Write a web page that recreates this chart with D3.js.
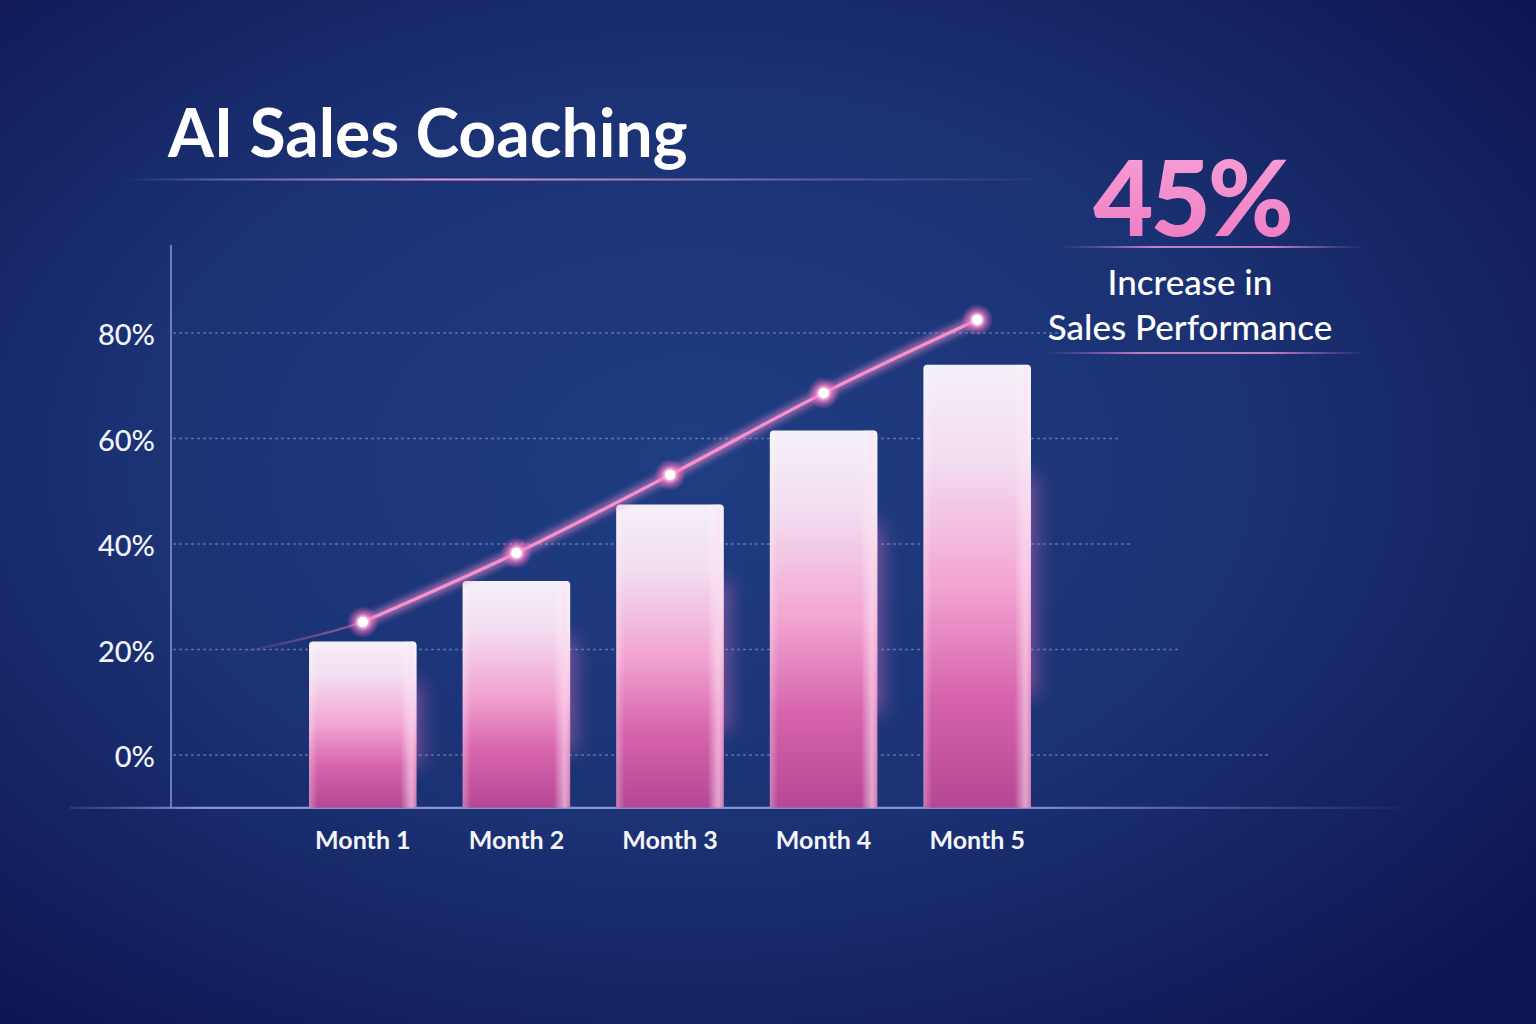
<!DOCTYPE html>
<html><head><meta charset="utf-8">
<script src="https://cdn.jsdelivr.net/npm/d3@7/dist/d3.min.js"></script>
<style>html,body{margin:0;padding:0;background:#13205a;}svg{display:block;}</style>
</head><body>
<script>
const months = ["Month 1","Month 2","Month 3","Month 4","Month 5"];
const barValues = [21.5, 33, 47.5, 61.5, 74];
const lineValues = [25.2, 38.3, 53.1, 68.6, 82.5];
const leadValue = 19;
const yTicks = [0, 20, 40, 60, 80];
const titleText = "AI Sales Coaching";
const kpiValue = "45%";
const kpiLines = ["Increase in", "Sales Performance"];

const W = 1536, H = 1024;
const svg = d3.select("body").append("svg").attr("width", W).attr("height", H);
const defs = svg.append("defs");

const bg = defs.append("radialGradient").attr("id","bg").attr("cx","0.45").attr("cy","0.45").attr("r","0.72");
bg.append("stop").attr("offset","0").attr("stop-color","#1f3d82");
bg.append("stop").attr("offset","0.5").attr("stop-color","#1b3274");
bg.append("stop").attr("offset","1").attr("stop-color","#0e1550");
svg.append("rect").attr("width",W).attr("height",H).attr("fill","url(#bg)");

const barG = defs.append("linearGradient").attr("id","barG").attr("x1",0).attr("y1",0).attr("x2",0).attr("y2",1);
[["0","#f4f0f8"],["0.22","#f3dcef"],["0.5","#f2a4d2"],["0.75","#d664ad"],["1","#b54794"]].forEach(s=>barG.append("stop").attr("offset",s[0]).attr("stop-color",s[1]));
const barEdge = defs.append("linearGradient").attr("id","barEdge").attr("x1",0).attr("y1",0).attr("x2",1).attr("y2",0);
[["0","#ffffff",0.3],["0.08","#ffffff",0],["0.85","#ffffff",0],["0.95","#ffe0f2",0.6],["1","#ffffff",0.25]].forEach(s=>barEdge.append("stop").attr("offset",s[0]).attr("stop-color",s[1]).attr("stop-opacity",s[2]));

const glow = defs.append("filter").attr("id","glow").attr("x","-50%").attr("y","-50%").attr("width","200%").attr("height","200%");
glow.append("feGaussianBlur").attr("stdDeviation",4).attr("result","b");
const gm = glow.append("feMerge"); gm.append("feMergeNode").attr("in","b"); gm.append("feMergeNode").attr("in","b"); gm.append("feMergeNode").attr("in","SourceGraphic");
const barGlow = defs.append("filter").attr("id","barGlow").attr("x","-30%").attr("y","-20%").attr("width","160%").attr("height","140%");
barGlow.append("feGaussianBlur").attr("stdDeviation",10);
const dotGlow = defs.append("radialGradient").attr("id","dotGlow");
dotGlow.append("stop").attr("offset","0").attr("stop-color","#ffffff");
dotGlow.append("stop").attr("offset","0.3").attr("stop-color","#ffd0ea");
dotGlow.append("stop").attr("offset","0.55").attr("stop-color","#ff7fc8").attr("stop-opacity",0.6);
dotGlow.append("stop").attr("offset","1").attr("stop-color","#ff5fb8").attr("stop-opacity",0);

function hLineGrad(id, stops){
  const g = defs.append("linearGradient").attr("id",id).attr("x1",0).attr("x2",1).attr("y1",0).attr("y2",0);
  stops.forEach(s=>g.append("stop").attr("offset",s[0]).attr("stop-color",s[1]).attr("stop-opacity",s[2]));
}
hLineGrad("titleLine",[["0","#6a6fb8",0],["0.1","#7f7fc8",0.6],["0.35","#e59ad8",1],["0.6","#b98ad0",0.8],["1","#6a70b8",0.1]]);
hLineGrad("kpiLine",[["0","#c07ad0",0],["0.3","#e08ad8",0.85],["0.7","#e08ad8",0.85],["1","#c07ad0",0]]);
hLineGrad("baseG",[["0","#7a88d0",0.2],["0.1","#9aa4e4",0.9],["0.7","#a4a8ec",0.8],["1","#8a90d8",0]]);
hLineGrad("leadG",[["0","#f07ac0",0],["0.5","#f07ac0",0.6],["1","#f07ac0",1]]);
const kpiFill = defs.append("linearGradient").attr("id","kpiFill").attr("x1",0).attr("y1",0).attr("x2",0).attr("y2",1);
kpiFill.append("stop").attr("offset","0").attr("stop-color","#f9a4d8");
kpiFill.append("stop").attr("offset","1").attr("stop-color","#ee78c0");

const y = d3.scaleLinear().domain([0,80]).range([755,333]);
const x = d3.scaleBand().domain(months).range([286,1054]).paddingInner(0.3).paddingOuter(0.15);
const yBottom = y(-10), yTop = y(96.7);
const FONT = "Lato, 'Open Sans', sans-serif";

// title
svg.append("text").attr("x",168).attr("y",157).text(titleText)
  .attr("font-family",FONT).attr("font-weight",700).attr("font-size",66).attr("fill","#ffffff");
svg.append("rect").attr("x",120).attr("y",178.5).attr("width",915).attr("height",2).attr("fill","url(#titleLine)");

// grid
const gridWidths = [1270, 1180, 1130, 1120, 1070];
svg.append("g").selectAll("line").data(yTicks).join("line")
  .attr("x1",173).attr("x2",(d,i)=>gridWidths[i]).attr("y1",d=>y(d)).attr("y2",d=>y(d))
  .attr("stroke","#8f9fdc").attr("stroke-opacity",0.55).attr("stroke-width",1.3).attr("stroke-dasharray","3,3");

// y axis
const yAxis = d3.axisLeft(y).tickValues(yTicks).tickFormat(d=>d+"%").tickSize(0).tickPadding(16);
const ya = svg.append("g").attr("transform","translate(171,0)").call(yAxis);
ya.select(".domain").remove();
ya.selectAll("text").attr("font-family",FONT).attr("font-weight",500).attr("font-size",29).attr("fill","#f2f3fb").attr("dy","0.4em");
svg.append("line").attr("x1",171).attr("x2",171).attr("y1",yTop).attr("y2",yBottom).attr("stroke","#8090d4").attr("stroke-width",2).attr("stroke-opacity",0.8);

// baseline
svg.append("rect").attr("x",70).attr("y",yBottom-1).attr("width",1350).attr("height",2.2).attr("fill","url(#baseG)");

// bar glows
const bars = svg.append("g");
bars.selectAll("rect.glow").data(barValues).join("rect").attr("class","glow")
  .attr("x",(d,i)=>x(months[i])+x.bandwidth()*0.55).attr("width",x.bandwidth()*0.5)
  .attr("y",d=>y(d)+(yBottom-y(d))*0.25).attr("height",d=>(yBottom-y(d))*0.5)
  .attr("fill","#ff7ccc").attr("opacity",0.4).attr("filter","url(#barGlow)");
function barPath(x0,w,top,bottom,r){
  return `M${x0},${bottom}V${top+r}Q${x0},${top} ${x0+r},${top}H${x0+w-r}Q${x0+w},${top} ${x0+w},${top+r}V${bottom}Z`;
}
bars.selectAll("path.bar").data(barValues).join("path").attr("class","bar")
  .attr("d",(d,i)=>barPath(x(months[i]),x.bandwidth(),y(d),yBottom,4)).attr("fill","url(#barG)");
bars.selectAll("path.edge").data(barValues).join("path").attr("class","edge")
  .attr("d",(d,i)=>barPath(x(months[i]),x.bandwidth(),y(d),yBottom,4)).attr("fill","url(#barEdge)");

// x labels
const xAxis = d3.axisBottom(x).tickSize(0).tickPadding(22);
const xa = svg.append("g").attr("transform",`translate(0,${yBottom})`).call(xAxis);
xa.select(".domain").remove();
xa.selectAll("text").attr("font-family",FONT).attr("font-weight",700).attr("font-size",25).attr("fill","#f4f5fb").attr("dy","0.75em");

// line
const cx = i=>x(months[i])+x.bandwidth()/2;
const pts = lineValues.map((v,i)=>[cx(i), y(v)]);
const leadPt = [cx(0)-x.step()*0.87, y(leadValue)];
const line = d3.line().curve(d3.curveCatmullRom.alpha(0.5));
const leadPath = line([leadPt, pts[0], pts[1]]);
defs.append("clipPath").attr("id","leadClip").append("rect").attr("x",leadPt[0]-2).attr("y",0).attr("width",pts[0][0]-leadPt[0]+2).attr("height",H);
svg.append("path").attr("d",leadPath).attr("fill","none").attr("stroke","url(#leadG)").attr("stroke-width",2.5).attr("clip-path","url(#leadClip)");
svg.append("path").attr("d",line(pts)).attr("fill","none").attr("stroke","#f690cf").attr("stroke-width",3.2).attr("filter","url(#glow)");
svg.append("g").selectAll("circle.g").data(pts).join("circle").attr("cx",d=>d[0]).attr("cy",d=>d[1]).attr("r",16).attr("fill","url(#dotGlow)");
svg.append("g").selectAll("circle.c").data(pts).join("circle").attr("cx",d=>d[0]).attr("cy",d=>d[1]).attr("r",5).attr("fill","#ffffff");

// KPI
svg.append("text").attr("x",1192).attr("y",236).attr("text-anchor","middle").text(kpiValue)
  .attr("font-family",FONT).attr("font-weight",900).attr("font-size",104).attr("fill","url(#kpiFill)").attr("letter-spacing","-3");
svg.append("rect").attr("x",1060).attr("y",246).attr("width",305).attr("height",2).attr("fill","url(#kpiLine)");
svg.append("g").selectAll("text").data(kpiLines).join("text")
  .attr("x",1190).attr("y",(d,i)=>295+i*45).attr("text-anchor","middle").text(d=>d)
  .attr("font-family",FONT).attr("font-weight",500).attr("font-size",35).attr("fill","#ffffff");
svg.append("rect").attr("x",1045).attr("y",352).attr("width",322).attr("height",2).attr("fill","url(#kpiLine)");
</script>
</body></html>
